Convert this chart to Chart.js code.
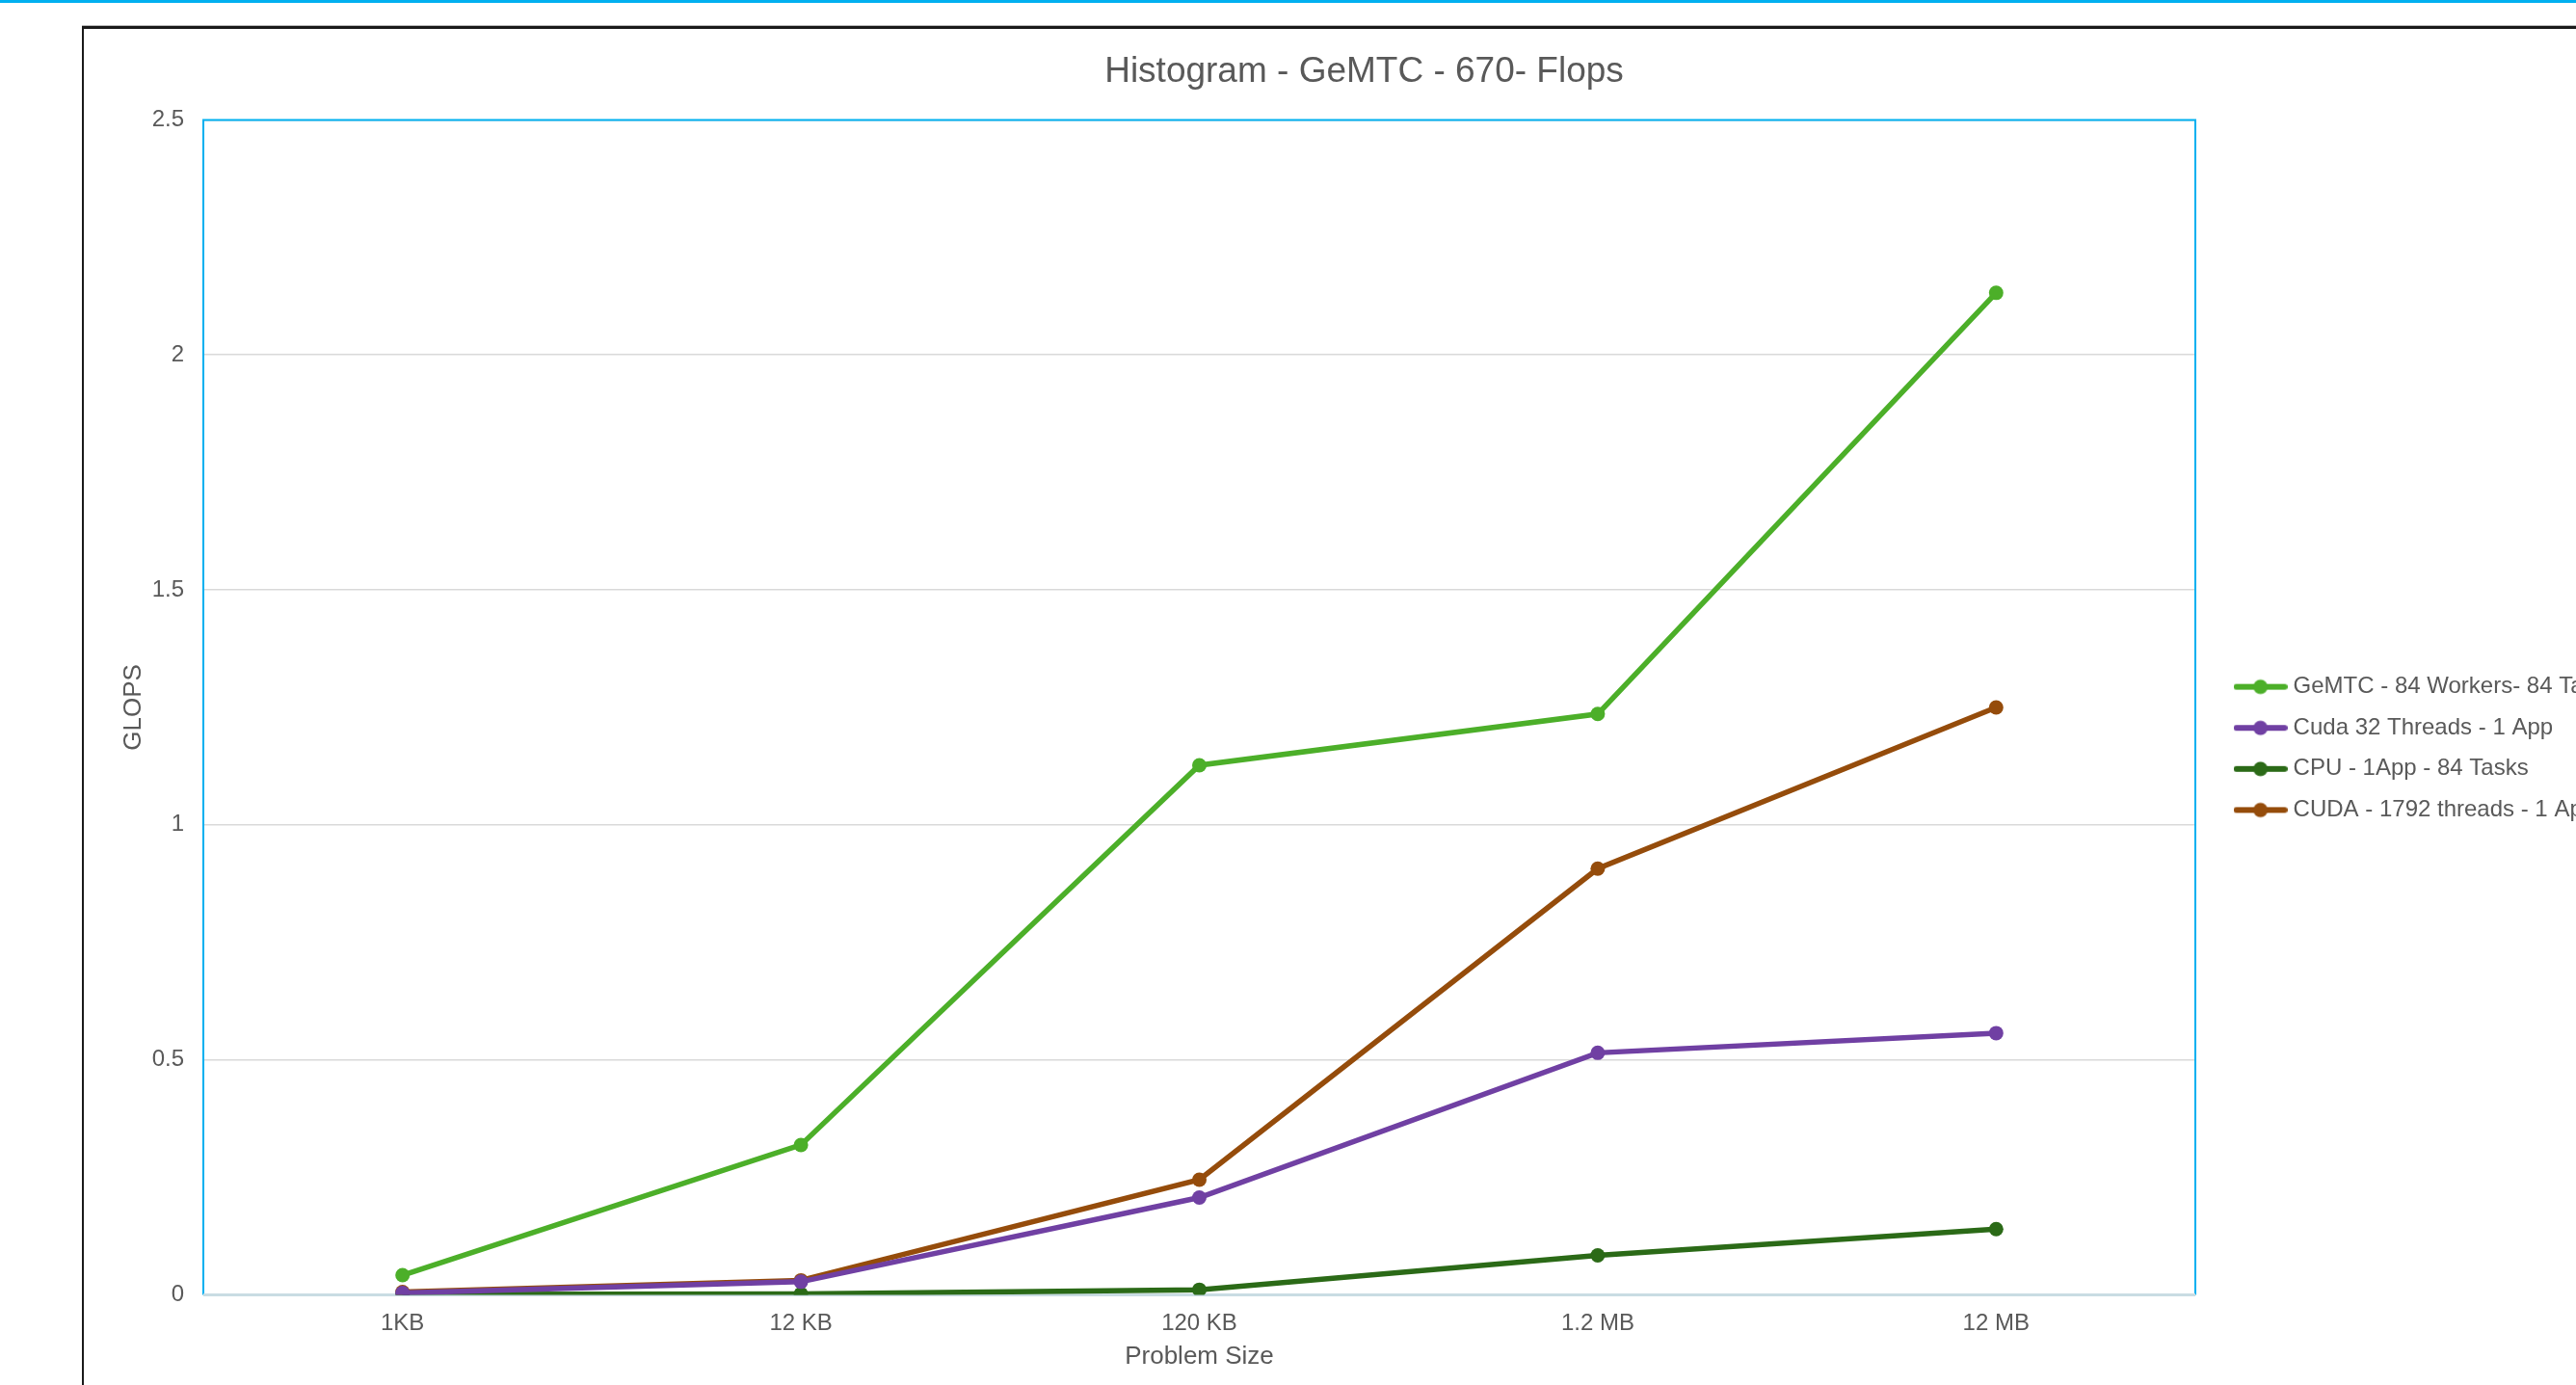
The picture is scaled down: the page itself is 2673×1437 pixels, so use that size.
<!DOCTYPE html>
<html>
<head>
<meta charset="utf-8">
<script src="https://cdn.jsdelivr.net/npm/chart.js@4/dist/chart.umd.min.js"></script>
<style>
    html, body { margin: 0; padding: 0; background: #fff; overflow: hidden; }
    #topbar { position: absolute; left: 0; top: 0; width: 2673px; height: 3px; background: #00b0f0; }
    #frame { position: absolute; left: 85px; top: 27px; width: 3000px; height: 2000px;
             border-top: 3px solid #1a1a1a; border-left: 2px solid #1a1a1a; box-shadow: 0 -1px 0 #bbb; }
    #wrap { position: absolute; left: 0; top: 0; width: 2673px; height: 1437px; }
</style>
</head>
<body>
<div id="topbar"></div>
<div id="frame"></div>
<div id="wrap"><canvas id="chart"></canvas></div>
<script>
const sizes = ['1KB', '12 KB', '120 KB', '1.2 MB', '12 MB'];
const seriesNames = [
    'GeMTC - 84 Workers- 84 Tasks',
    'Cuda 32 Threads - 1 App',
    'CPU - 1App - 84 Tasks',
    'CUDA - 1792 threads - 1 App',
];
const gemtc = [0.042, 0.319, 1.127, 1.236, 2.132];
const cuda32 = [0.004, 0.028, 0.207, 0.515, 0.557];
const cpu = [0.001, 0.002, 0.011, 0.084, 0.14];
const cuda1792 = [0.006, 0.031, 0.245, 0.907, 1.25];
const colors = ['#4caf29', '#7040a3', '#2b6a17', '#954c0b'];

const font = "'Liberation Sans', Arial, sans-serif";
const grey = '#595959';

// little line+dot icons for the legend
function legendIcon(color) {
    const c = document.createElement('canvas');
    c.width = 56; c.height = 18;
    const g = c.getContext('2d');
    g.strokeStyle = color; g.lineWidth = 6; g.lineCap = 'round';
    g.beginPath(); g.moveTo(3, 9); g.lineTo(53, 9); g.stroke();
    g.fillStyle = color;
    g.beginPath(); g.arc(28, 9, 7.5, 0, Math.PI * 2); g.fill();
    return c;
}
const icons = colors.map(legendIcon);

// cyan border round the plot, legend + title nudged to where Excel had them
const plotFrame = {
    id: 'plotFrame',
    afterLayout(chart) {
        const lg = chart.legend;
        const w = lg.right - lg.left, h = lg.bottom - lg.top;
        lg.left = chart.chartArea.right + 27; lg.right = lg.left + w;
        lg.top = 682; lg.bottom = lg.top + h;
        const t = chart.titleBlock;
        t.left += 29; t.right += 29;
    },
    beforeDatasetsDraw(chart) {
        const { ctx, chartArea: a } = chart;
        ctx.save();
        ctx.strokeStyle = '#00b0f0';
        ctx.lineWidth = 2;
        ctx.beginPath();
        ctx.moveTo(a.left, a.bottom);
        ctx.lineTo(a.left, a.top);
        ctx.lineTo(a.right, a.top);
        ctx.lineTo(a.right, a.bottom);
        ctx.stroke();
        ctx.strokeStyle = '#c9dce3';
        ctx.lineWidth = 3;
        ctx.beginPath();
        ctx.moveTo(a.left, a.bottom);
        ctx.lineTo(a.right, a.bottom);
        ctx.stroke();
        ctx.restore();
    },
};

const mk = (i, data) => ({
    label: seriesNames[i],
    data,
    borderColor: colors[i],
    backgroundColor: colors[i],
    borderWidth: 5.5,
    pointRadius: 7.5,
    pointHoverRadius: 7.5,
    pointBorderWidth: 0,
    tension: 0,
});

new Chart(document.getElementById('chart'), {
    type: 'line',
    data: {
        labels: sizes,
        datasets: [mk(0, gemtc), mk(1, cuda32), mk(2, cpu), mk(3, cuda1792)],
    },
    options: {
        responsive: true,
        maintainAspectRatio: false,
        animation: false,
        layout: { padding: { left: 100, top: 30, right: 0, bottom: 14 } },
        plugins: {
            title: {
                display: true,
                text: 'Histogram - GeMTC - 670- Flops',
                color: grey,
                font: { family: font, size: 37, weight: 'normal' },
                padding: { top: 23, bottom: 27 },
            },
            legend: {
                position: 'right',
                align: 'start',
                maxWidth: 395,
                labels: {
                    color: grey,
                    font: { family: font, size: 24 },
                    usePointStyle: true,
                    pointStyleWidth: 44,
                    padding: 18.6,
                    generateLabels(chart) {
                        return Chart.defaults.plugins.legend.labels.generateLabels(chart)
                            .map((l, i) => ({ ...l, pointStyle: icons[i] }));
                    },
                },
            },
            tooltip: { enabled: false },
        },
        scales: {
            x: {
                offset: true,
                grid: { display: false, drawTicks: false },
                border: { display: false },
                ticks: { color: grey, font: { family: font, size: 24 }, padding: 15.5 },
                title: {
                    display: true, text: 'Problem Size', color: grey,
                    font: { family: font, size: 26 }, padding: { top: -11.5, bottom: 0 },
                },
            },
            y: {
                min: 0,
                max: 2.5,
                ticks: {
                    stepSize: 0.5, color: grey, font: { family: font, size: 24 }, padding: 20,
                    callback: (v) => String(v),
                },
                grid: { color: '#d9d9d9', lineWidth: 1.5, drawTicks: false },
                border: { display: false },
                title: {
                    display: true, text: 'GLOPS', color: grey,
                    font: { family: font, size: 26 }, padding: { top: 23, bottom: 0 },
                },
                afterFit(scale) { scale.width = 111; },
            },
        },
    },
    plugins: [plotFrame],
});
</script>
</body>
</html>
